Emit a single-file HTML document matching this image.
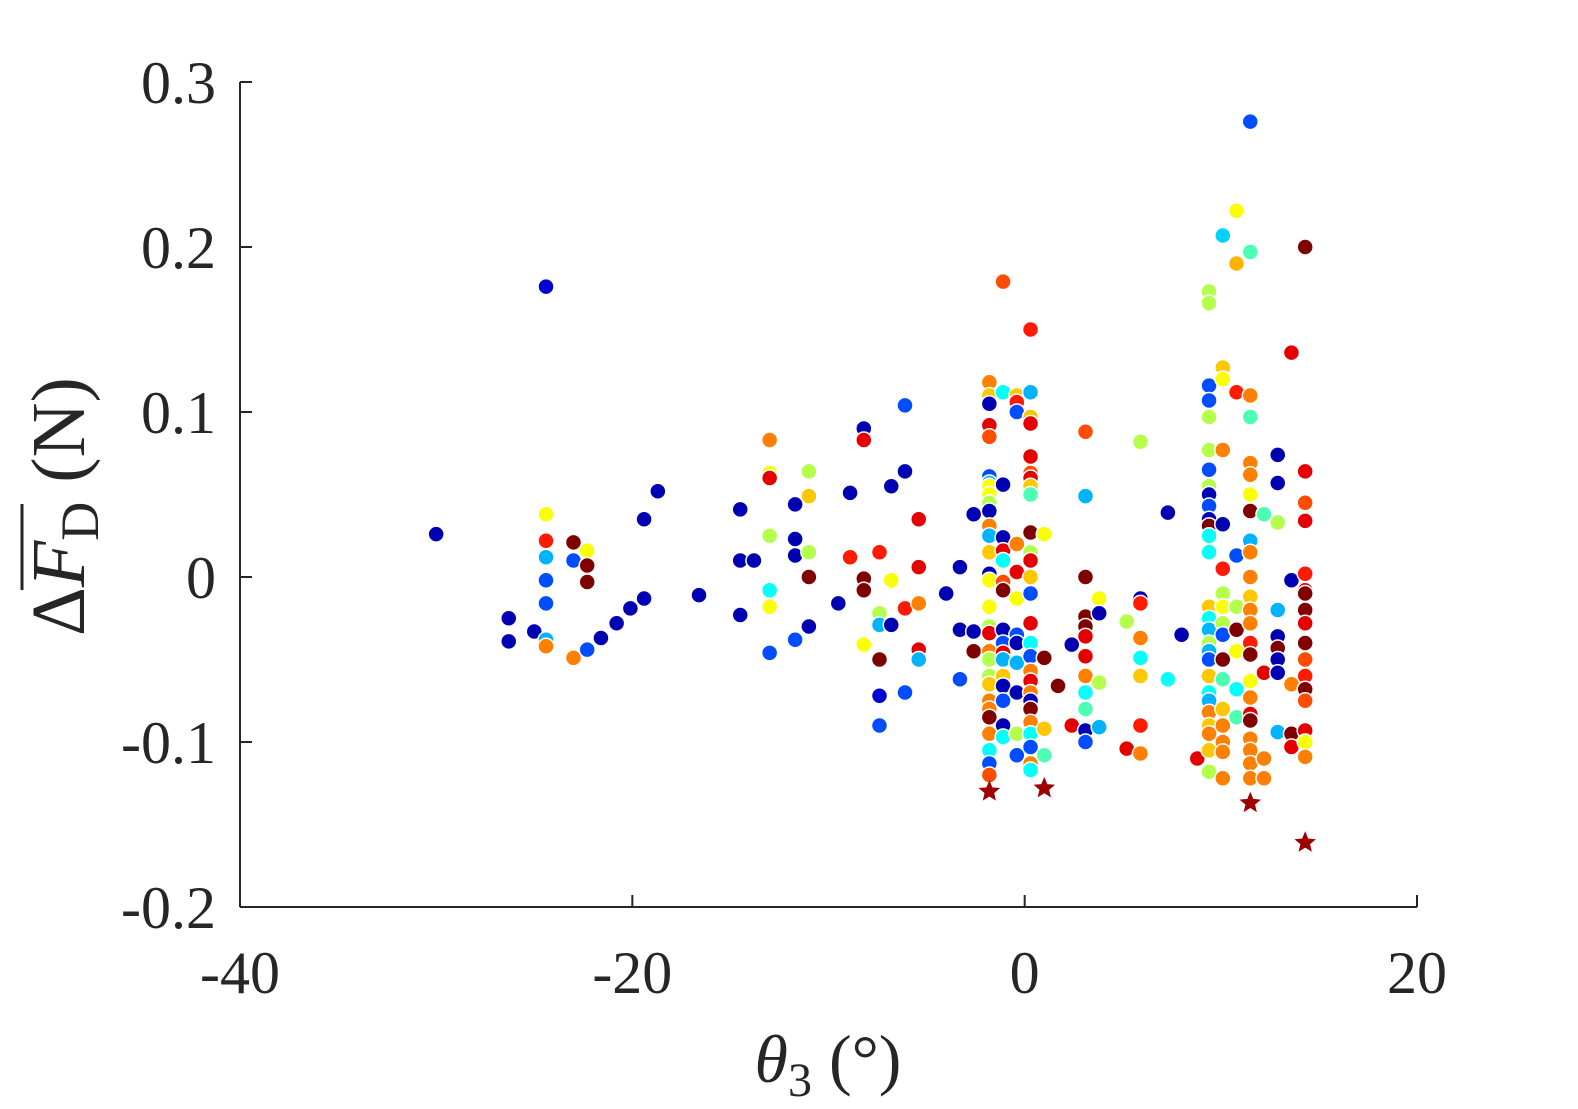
<!DOCTYPE html>
<html><head><meta charset="utf-8"><style>
html,body{margin:0;padding:0;background:#fff;}
svg{display:block;font-family:"Liberation Serif",serif;}
</style></head><body>
<svg id="chart" width="1578" height="1109" viewBox="0 0 1578 1109" xmlns="http://www.w3.org/2000/svg">
<g id="axes"></g>
<g id="marks"></g>
<text x="828" y="1082" text-anchor="middle" font-size="68" fill="#262626"><tspan font-style="italic">θ</tspan><tspan font-size="48" dy="14">3</tspan><tspan dy="-14"> (°)</tspan></text>
<g transform="translate(84,498) rotate(-90)">
<text x="-138" y="0" text-anchor="start" font-size="76" fill="#262626">Δ<tspan font-style="italic">F</tspan><tspan font-size="54" dy="14">D</tspan><tspan dy="-14"> (N)</tspan></text>
<line x1="-92" y1="-62" x2="-6" y2="-62" stroke="#262626" stroke-width="3"/>
</g>
</svg>
<script>
const xTicks=[-40,-20,0,20];
const yTicks=[-0.2,-0.1,0,0.1,0.2,0.3];
const xTickLabels=["-40","-20","0","20"];
const yTickLabels=["-0.2","-0.1","0","0.1","0.2","0.3"];
// points: [theta3, dF, colorIndex 0..1]
const scatterPts=[
[-30.0,0.026,0.05],[-26.3,-0.025,0.05],[-26.3,-0.039,0.05],[-25.0,-0.033,0.05],
[-24.4,0.176,0.08],[-24.4,0.038,0.62],[-24.4,0.022,0.85],[-24.4,0.012,0.3],[-24.4,-0.002,0.2],[-24.4,-0.016,0.2],[-24.4,-0.038,0.3],[-24.4,-0.042,0.75],
[-23.0,0.021,1.0],[-23.0,0.010,0.2],[-23.0,-0.049,0.75],[-22.3,0.016,0.62],[-22.3,0.007,1.0],[-22.3,-0.003,1.0],[-22.3,-0.044,0.2],
[-21.6,-0.037,0.05],[-20.8,-0.028,0.05],[-20.1,-0.019,0.05],[-19.4,0.035,0.05],[-19.4,-0.013,0.05],[-18.7,0.052,0.05],[-16.6,-0.011,0.05],
[-14.5,0.041,0.05],[-14.5,0.010,0.05],[-14.5,-0.023,0.05],[-13.8,0.010,0.05],
[-13.0,0.083,0.75],[-13.0,0.063,0.62],[-13.0,0.060,0.9],[-13.0,0.025,0.55],[-13.0,-0.008,0.38],[-13.0,-0.018,0.62],[-13.0,-0.046,0.2],
[-11.7,0.044,0.05],[-11.7,0.023,0.05],[-11.7,0.013,0.05],[-11.7,-0.038,0.2],
[-11.0,0.064,0.55],[-11.0,0.049,0.68],[-11.0,0.015,0.55],[-11.0,0.0,1.0],[-11.0,-0.030,0.05],
[-9.5,-0.016,0.05],[-8.9,0.051,0.05],[-8.9,0.012,0.85],
[-8.2,0.090,0.05],[-8.2,0.083,0.9],[-8.2,-0.001,1.0],[-8.2,-0.008,1.0],[-8.2,-0.041,0.62],
[-7.4,0.015,0.85],[-7.4,-0.022,0.55],[-7.4,-0.029,0.3],[-7.4,-0.050,1.0],[-7.4,-0.072,0.08],[-7.4,-0.090,0.2],
[-6.8,-0.002,0.62],[-6.8,-0.029,0.05],[-6.8,0.055,0.05],
[-6.1,0.104,0.2],[-6.1,0.064,0.05],[-6.1,-0.019,0.85],[-6.1,-0.070,0.2],
[-5.4,0.035,0.9],[-5.4,0.006,0.9],[-5.4,-0.016,0.75],[-5.4,-0.044,0.9],[-5.4,-0.050,0.3],
[-4.0,-0.010,0.05],[-3.3,0.006,0.05],[-3.3,-0.032,0.05],[-3.3,-0.062,0.2],
[-2.6,0.038,0.05],[-2.6,-0.033,0.05],[-2.6,-0.045,1.0],
[-1.8,0.118,0.75],[-1.8,0.110,0.68],[-1.8,0.105,0.05],[-1.8,0.092,0.9],[-1.8,0.085,0.8],[-1.8,0.061,0.2],[-1.8,0.057,0.3],[-1.8,0.055,0.62],[-1.8,0.050,0.62],[-1.8,0.045,0.55],[-1.8,0.040,0.05],[-1.8,0.031,0.75],[-1.8,0.025,0.3],[-1.8,0.015,0.68],[-1.8,0.002,0.05],[-1.8,-0.002,0.62],[-1.8,-0.018,0.62],[-1.8,-0.030,0.55],[-1.8,-0.034,0.9],[-1.8,-0.045,0.75],[-1.8,-0.050,0.55],[-1.8,-0.060,0.55],[-1.8,-0.065,0.68],[-1.8,-0.075,0.75],[-1.8,-0.080,0.75],[-1.8,-0.085,1.0],[-1.8,-0.095,0.75],[-1.8,-0.105,0.38],[-1.8,-0.113,0.2],[-1.8,-0.120,0.8],
[-1.1,0.179,0.8],[-1.1,0.112,0.38],[-1.1,0.056,0.05],[-1.1,0.024,0.05],[-1.1,0.016,0.9],[-1.1,0.010,0.38],[-1.1,-0.003,0.8],[-1.1,-0.008,1.0],[-1.1,-0.032,0.05],[-1.1,-0.040,0.2],[-1.1,-0.046,0.9],[-1.1,-0.050,0.3],[-1.1,-0.060,0.68],[-1.1,-0.066,0.05],[-1.1,-0.075,0.2],[-1.1,-0.090,0.05],[-1.1,-0.097,0.38],
[-0.4,0.110,0.68],[-0.4,0.106,0.85],[-0.4,0.100,0.2],[-0.4,0.020,0.75],[-0.4,0.003,0.9],[-0.4,-0.013,0.62],[-0.4,-0.035,0.2],[-0.4,-0.040,0.05],[-0.4,-0.052,0.3],[-0.4,-0.070,0.05],[-0.4,-0.095,0.55],[-0.4,-0.108,0.2],
[0.3,0.150,0.85],[0.3,0.112,0.3],[0.3,0.097,0.68],[0.3,0.093,0.9],[0.3,0.073,0.9],[0.3,0.063,0.8],[0.3,0.060,0.9],[0.3,0.055,0.68],[0.3,0.050,0.45],[0.3,0.027,1.0],[0.3,0.015,0.55],[0.3,0.010,0.9],[0.3,0.000,0.68],[0.3,-0.010,0.2],[0.3,-0.028,0.9],[0.3,-0.040,0.38],[0.3,-0.048,0.2],[0.3,-0.057,0.75],[0.3,-0.063,0.9],[0.3,-0.070,0.75],[0.3,-0.075,0.05],[0.3,-0.080,1.0],[0.3,-0.088,0.75],[0.3,-0.095,0.38],[0.3,-0.103,0.2],[0.3,-0.113,0.75],[0.3,-0.117,0.38],
[1.0,0.026,0.62],[1.0,-0.049,1.0],[1.0,-0.092,0.68],[1.0,-0.108,0.45],
[1.7,-0.066,1.0],[2.4,-0.041,0.05],[2.4,-0.090,0.9],
[3.1,0.088,0.8],[3.1,0.049,0.3],[3.1,0.000,1.0],[3.1,-0.024,1.0],[3.1,-0.030,1.0],[3.1,-0.036,0.9],[3.1,-0.048,0.9],[3.1,-0.060,0.75],[3.1,-0.070,0.38],[3.1,-0.080,0.45],[3.1,-0.093,0.05],[3.1,-0.100,0.2],
[3.8,-0.013,0.62],[3.8,-0.064,0.55],[3.8,-0.022,0.05],[3.8,-0.091,0.3],
[5.2,-0.027,0.55],[5.2,-0.104,0.9],
[5.9,0.082,0.55],[5.9,-0.013,0.05],[5.9,-0.016,0.85],[5.9,-0.037,0.75],[5.9,-0.049,0.38],[5.9,-0.060,0.68],[5.9,-0.090,0.85],[5.9,-0.107,0.75],
[7.3,0.039,0.05],[7.3,-0.062,0.38],[8.0,-0.035,0.05],[8.8,-0.110,0.9],
[9.4,0.173,0.55],[9.4,0.166,0.55],[9.4,0.116,0.2],[9.4,0.107,0.2],[9.4,0.097,0.55],[9.4,0.077,0.55],[9.4,0.065,0.2],[9.4,0.055,0.55],[9.4,0.050,0.05],[9.4,0.043,0.2],[9.4,0.035,0.05],[9.4,0.031,1.0],[9.4,0.025,0.38],[9.4,0.015,0.38],[9.4,-0.018,0.68],[9.4,-0.025,0.38],[9.4,-0.032,0.3],[9.4,-0.040,0.55],[9.4,-0.045,0.3],[9.4,-0.050,0.2],[9.4,-0.060,0.68],[9.4,-0.070,0.38],[9.4,-0.075,0.3],[9.4,-0.082,0.75],[9.4,-0.090,0.68],[9.4,-0.095,0.75],[9.4,-0.105,0.68],[9.4,-0.118,0.55],
[10.1,0.207,0.33],[10.1,0.127,0.68],[10.1,0.120,0.62],[10.1,0.077,0.75],[10.1,0.032,0.05],[10.1,0.005,0.85],[10.1,-0.010,0.55],[10.1,-0.018,0.62],[10.1,-0.028,0.55],[10.1,-0.035,0.2],[10.1,-0.050,1.0],[10.1,-0.062,0.45],[10.1,-0.080,0.68],[10.1,-0.090,0.75],[10.1,-0.100,0.75],[10.1,-0.106,0.75],[10.1,-0.122,0.75],
[10.8,0.222,0.62],[10.8,0.190,0.7],[10.8,0.112,0.85],[10.8,0.013,0.2],[10.8,-0.018,0.55],[10.8,-0.032,1.0],[10.8,-0.045,0.62],[10.8,-0.068,0.38],[10.8,-0.085,0.45],
[11.5,0.276,0.2],[11.5,0.197,0.45],[11.5,0.110,0.75],[11.5,0.097,0.45],[11.5,0.069,0.75],[11.5,0.062,0.75],[11.5,0.050,0.62],[11.5,0.040,1.0],[11.5,0.022,0.3],[11.5,0.015,0.75],[11.5,0.000,0.75],[11.5,-0.012,0.68],[11.5,-0.020,0.75],[11.5,-0.028,0.75],[11.5,-0.040,0.85],[11.5,-0.047,1.0],[11.5,-0.063,0.62],[11.5,-0.073,0.75],[11.5,-0.083,0.9],[11.5,-0.087,1.0],[11.5,-0.098,0.75],[11.5,-0.105,0.75],[11.5,-0.113,0.75],[11.5,-0.122,0.75],
[12.2,0.038,0.45],[12.2,-0.058,0.9],[12.2,-0.110,0.75],[12.2,-0.122,0.75],
[12.9,0.074,0.05],[12.9,0.057,0.05],[12.9,0.033,0.55],[12.9,-0.020,0.3],[12.9,-0.036,0.05],[12.9,-0.043,1.0],[12.9,-0.050,0.05],[12.9,-0.058,0.05],[12.9,-0.094,0.3],
[13.6,0.136,0.9],[13.6,-0.002,0.05],[13.6,-0.065,0.75],[13.6,-0.095,1.0],[13.6,-0.103,0.9],
[14.3,0.200,1.0],[14.3,0.064,0.9],[14.3,0.045,0.8],[14.3,0.034,0.9],[14.3,0.002,0.85],[14.3,-0.008,0.9],[14.3,-0.010,1.0],[14.3,-0.020,1.0],[14.3,-0.028,0.9],[14.3,-0.040,1.0],[14.3,-0.050,0.8],[14.3,-0.060,0.85],[14.3,-0.068,1.0],[14.3,-0.075,0.8],[14.3,-0.093,0.9],[14.3,-0.100,0.62],[14.3,-0.109,0.75]
];
const starX=[-1.8,1.0,11.5,14.3];
const starY=[-0.130,-0.128,-0.137,-0.161];

const X0=240,X1=1417,Y0=907,Y1=82;
const xs=v=>X0+(v+40)/60*(X1-X0);
const ys=v=>Y0-(v+0.2)/0.5*(Y0-Y1);
const NS="http://www.w3.org/2000/svg";
function jet(t){
  const c=x=>Math.round(255*Math.max(0,Math.min(1,x)));
  return `rgb(${c(1.5-Math.abs(4*t-3))},${c(1.5-Math.abs(4*t-2))},${c(1.5-Math.abs(4*t-1))})`;
}
const axes=document.getElementById('axes');
function mk(tag,attrs,parent){const e=document.createElementNS(NS,tag);for(const k in attrs)e.setAttribute(k,attrs[k]);parent.appendChild(e);return e;}
let l=mk('line',{x1:X0,y1:Y0,x2:X1,y2:Y0,stroke:'#262626','stroke-width':2},axes);


l=mk('line',{x1:X0,y1:Y0,x2:X0,y2:Y1,stroke:'#262626','stroke-width':2},axes);


xTicks.forEach((v,i)=>{
  const t=mk('line',{x1:xs(v),y1:Y0,x2:xs(v),y2:Y0-12,stroke:'#262626','stroke-width':2},axes);
  
  
  const tx=mk('text',{x:xs(v),y:993,'text-anchor':'middle','font-size':60,fill:'#262626'},axes);
  tx.textContent=xTickLabels[i];
  
  
});
yTicks.forEach((v,i)=>{
  const t=mk('line',{x1:X0,y1:ys(v),x2:X0+12,y2:ys(v),stroke:'#262626','stroke-width':2},axes);
  
  
  const tx=mk('text',{x:216,y:ys(v)+21,'text-anchor':'end','font-size':60,fill:'#262626'},axes);
  tx.textContent=yTickLabels[i];
  
  
});
const marks=document.getElementById('marks');
scatterPts.forEach(p=>{
  const c=mk('circle',{cx:xs(p[0]),cy:ys(p[1]),r:8,fill:jet(p[2]),stroke:'#fff','stroke-width':1.5},marks);
  
  
});
starX.forEach((x,i)=>{
  const cx=xs(x),cy=ys(starY[i]);let pts=[];
  for(let k=0;k<10;k++){const a=-Math.PI/2+k*Math.PI/5;const r=k%2?4.5:10;pts.push((cx+r*Math.cos(a)).toFixed(1)+','+(cy+r*Math.sin(a)).toFixed(1));}
  const s=mk('polygon',{points:pts.join(' '),fill:'#9e0000',stroke:'#9e0000','stroke-width':1},marks);
  
  
});
</script>
</body></html>
